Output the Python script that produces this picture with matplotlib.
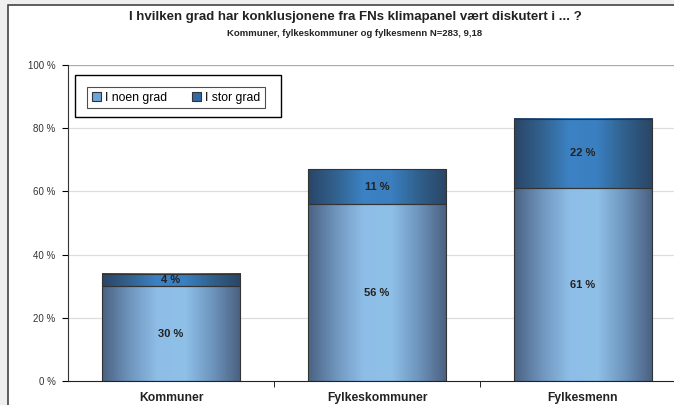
import numpy as np
import matplotlib.pyplot as plt
from matplotlib.colors import LinearSegmentedColormap
from matplotlib.patches import Rectangle

plt.rcParams['font.family'] = ['Liberation Sans', 'DejaVu Sans']

# data
categories = ['Kommuner', 'Fylkeskommuner', 'Fylkesmenn']
noen_grad = [30, 56, 61]
stor_grad = [4, 11, 22]
series_names = ['I noen grad', 'I stor grad']
title = 'I hvilken grad har konklusjonene fra FNs klimapanel vært diskutert i ... ?'
subtitle = 'Kommuner, fylkeskommuner og fylkesmenn N=283, 9,18'

# gradient colour maps (dark edges, light middle)
cmap_low = LinearSegmentedColormap.from_list(
    'low', ['#4a6282', '#6f95bd', '#8ebee7', '#8fc0e8', '#6d94bc', '#4a6080'])
cmap_high = LinearSegmentedColormap.from_list(
    'high', ['#2a4566', '#32628f', '#3c82c4', '#3a7fc0', '#30608c', '#2a4565'])

fig = plt.figure(figsize=(6.74, 4.05), dpi=100)
fig.patch.set_facecolor('#efefef')

# white chart area with dark border
chart_bg = Rectangle((8 / 674, -0.1), 1.0, 1.1 - 5 / 405, transform=fig.transFigure,
                     facecolor='white', edgecolor='#444444', linewidth=1.2, zorder=-5)
fig.patches.append(chart_bg)

ax = fig.add_axes([68 / 674, 24 / 405, 618 / 674, 316 / 405])
ax.set_facecolor('none')

yt = np.arange(0, 101, 20)
ax.set_yticks(yt)
ax.set_yticklabels([f'{v} %' for v in yt], fontsize=7, color='#333333')
for v in yt[1:]:
    ax.axhline(v, color='#aaaaaa' if v == 100 else '#dddddd', linewidth=0.9, zorder=0)

ax.set_xticks([0.5, 1.5, 2.5], minor=True)
ax.set_xticks(range(len(categories)))
ax.set_xticklabels(categories, fontsize=8.7, fontweight='bold', color='#222222')
ax.tick_params(axis='x', which='major', length=0, pad=8)
ax.tick_params(axis='x', which='minor', length=4, direction='out')
ax.tick_params(axis='y', length=4, direction='out', pad=5)

for s in ['top', 'right']:
    ax.spines[s].set_visible(False)
ax.spines['left'].set_color('#333333')
ax.spines['bottom'].set_color('#222222')

w = 0.67
grad = np.linspace(0, 1, 256).reshape(1, -1)
for i, (lo, hi) in enumerate(zip(noen_grad, stor_grad)):
    x0 = i - w / 2
    ax.imshow(grad, cmap=cmap_low, extent=(x0, x0 + w, 0, lo), aspect='auto', zorder=2)
    ax.imshow(grad, cmap=cmap_high, extent=(x0, x0 + w, lo, lo + hi), aspect='auto', zorder=2)
    ax.bar(i, lo, width=w, facecolor='none', edgecolor='#333333', linewidth=0.8, zorder=3)
    ax.bar(i, hi, bottom=lo, width=w, facecolor='none', edgecolor='#333333', linewidth=0.8, zorder=3)
    ax.text(i, lo / 2, f'{lo} %', ha='center', va='center', fontsize=8,
            fontweight='bold', color='#222222', zorder=4)
    ax.text(i, lo + hi / 2, f'{hi} %', ha='center', va='center', fontsize=8,
            fontweight='bold', color='#222222', zorder=4)
ax.set_xlim(-0.5, 2.5)
ax.set_ylim(0, 100)

# legend: outer frame plus inner box
outer = Rectangle((75 / 674, 1 - 117 / 405), 206 / 674, 42 / 405, transform=fig.transFigure,
                  facecolor='white', edgecolor='black', linewidth=1.0, zorder=5)
fig.patches.append(outer)
handles = [Rectangle((0, 0), 1, 1, facecolor='#6aa6dc', edgecolor='#333333', linewidth=0.8),
           Rectangle((0, 0), 1, 1, facecolor='#2f6aa6', edgecolor='#333333', linewidth=0.8)]
leg = fig.legend(handles, series_names, loc='center', bbox_to_anchor=(176 / 674, 1 - 97.5 / 405),
                 ncol=2, fontsize=8.8, frameon=True, fancybox=False, handlelength=0.8,
                 handleheight=0.8, handletextpad=0.3, columnspacing=2.0, borderpad=0.35,
                 borderaxespad=0)
leg.get_frame().set_edgecolor('#222222')
leg.get_frame().set_linewidth(0.8)
leg.set_zorder(6)

fig.text(355 / 674, 1 - 17 / 405, title, ha='center', va='center', fontsize=9.5,
         fontweight='bold', color='#222222')
fig.text(355 / 674, 1 - 33 / 405, subtitle, ha='center', va='center', fontsize=6.8,
         fontweight='bold', color='#222222')

fig.savefig('out.png', dpi=100, facecolor=fig.get_facecolor())
